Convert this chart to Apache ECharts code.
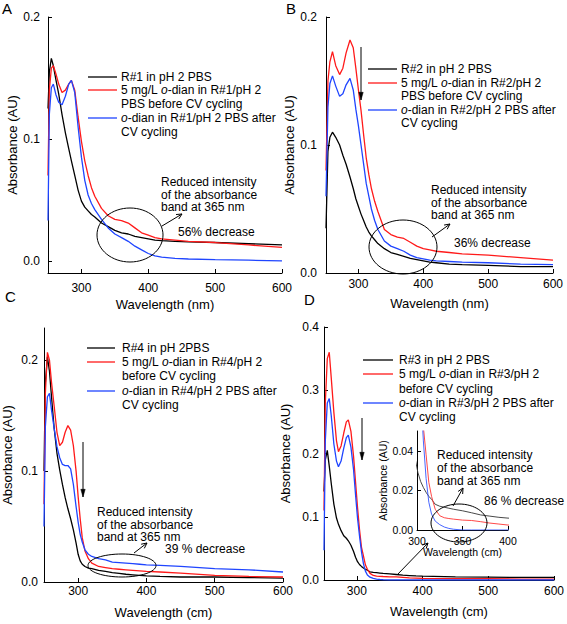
<!DOCTYPE html>
<html><head><meta charset="utf-8">
<script src="https://cdn.jsdelivr.net/npm/echarts@6/dist/echarts.min.js"></script>
<style>html,body{margin:0;padding:0;background:#fff}#c{width:567px;height:624px}</style>
</head><body><div id="c"></div>
<script>
// ---------- DATA ----------
const xTicks = [300, 400, 500, 600];
const insetXTicks = [300, 350, 400];
const yTicksAB = [0, 0.1, 0.2];
const yTicksC = [0, 0.1, 0.2];
const yTicksD = [0, 0.1, 0.2, 0.3, 0.4];
const yTicksInset = [0, 0.02, 0.04];

// Panel A
const wlA = [250,252,255,258,262,266,271,276,281,285,290,295,300,305,310,315,320,330,340,350,360,370,380,390,400,410,420,440,460,500,550,600];
const blackA = [0.125,0.155,0.166,0.160,0.148,0.137,0.120,0.105,0.092,0.082,0.070,0.058,0.049,0.044,0.041,0.038,0.036,0.031,0.028,0.025,0.023,0.022,0.020,0.019,0.018,0.017,0.0165,0.016,0.0155,0.015,0.014,0.013];
const redA = [0.070,0.140,0.158,0.160,0.153,0.145,0.138,0.140,0.145,0.148,0.140,0.118,0.098,0.082,0.070,0.060,0.053,0.043,0.037,0.034,0.033,0.031,0.027,0.023,0.021,0.019,0.018,0.017,0.016,0.015,0.013,0.011];
const blueA = [0.033,0.120,0.142,0.145,0.136,0.130,0.128,0.135,0.145,0.148,0.138,0.110,0.085,0.066,0.054,0.047,0.042,0.034,0.027,0.022,0.019,0.016,0.012,0.009,0.006,0.004,0.003,0.002,0.0015,0.001,0.0005,0.0];

// Panel B
const wlB = [250,253,256,260,265,271,276,281,287,292,296,300,304,308,312,316,320,325,330,340,350,360,370,380,390,400,410,420,440,460,500,550,600];
const blackB = [0.035,0.095,0.106,0.110,0.106,0.100,0.092,0.085,0.075,0.066,0.058,0.052,0.046,0.041,0.036,0.032,0.029,0.026,0.023,0.019,0.016,0.0145,0.013,0.0115,0.0105,0.0095,0.0085,0.008,0.007,0.0065,0.006,0.005,0.005];
const redB = [0.080,0.150,0.165,0.173,0.162,0.155,0.160,0.172,0.182,0.176,0.160,0.143,0.127,0.108,0.090,0.077,0.066,0.056,0.048,0.034,0.030,0.028,0.027,0.024,0.021,0.019,0.018,0.017,0.016,0.015,0.014,0.012,0.010];
const blueB = [0.060,0.130,0.148,0.154,0.146,0.138,0.140,0.147,0.152,0.143,0.128,0.115,0.100,0.085,0.070,0.060,0.050,0.041,0.034,0.025,0.021,0.019,0.017,0.014,0.012,0.011,0.010,0.0095,0.009,0.0085,0.008,0.007,0.0065];

// Panel C
const wlC = [250,252,255,258,261,265,269,273,277,281,285,289,293,297,300,303,306,310,315,320,330,340,350,360,370,380,390,400,420,450,500,550,600];
const blackC = [0.100,0.180,0.203,0.190,0.167,0.138,0.116,0.101,0.088,0.076,0.066,0.057,0.047,0.035,0.025,0.019,0.016,0.014,0.0125,0.012,0.0105,0.0095,0.0085,0.0078,0.007,0.0065,0.006,0.0055,0.005,0.0045,0.0045,0.004,0.0035];
const redC = [0.070,0.170,0.207,0.200,0.180,0.158,0.135,0.123,0.126,0.135,0.141,0.137,0.123,0.100,0.077,0.057,0.040,0.028,0.021,0.017,0.014,0.013,0.012,0.0115,0.011,0.0105,0.010,0.0095,0.009,0.008,0.006,0.005,0.0045];
const blueC = [0.050,0.140,0.167,0.170,0.155,0.138,0.122,0.112,0.106,0.105,0.105,0.102,0.088,0.068,0.054,0.043,0.036,0.029,0.025,0.023,0.021,0.020,0.018,0.0175,0.017,0.0165,0.016,0.0155,0.015,0.014,0.012,0.011,0.009];

// Panel D (also used by the inset)
const wlD = [250,252,255,258,261,265,269,272,276,280,284,287,291,295,298,301,304,307,310,313,316,320,325,330,335,340,350,360,370,380,390,400,450,500,550,600];
const blackD = [0.140,0.190,0.205,0.180,0.153,0.120,0.098,0.088,0.078,0.070,0.066,0.062,0.055,0.045,0.036,0.029,0.0245,0.0215,0.019,0.017,0.0155,0.013,0.012,0.0115,0.011,0.0105,0.0097,0.0087,0.0076,0.007,0.0064,0.006,0.005,0.0045,0.004,0.004];
const redD = [0.110,0.280,0.350,0.360,0.320,0.265,0.220,0.203,0.212,0.232,0.250,0.253,0.235,0.195,0.155,0.115,0.080,0.052,0.038,0.024,0.017,0.0105,0.0072,0.0062,0.0058,0.0055,0.005,0.0048,0.0042,0.0035,0.003,0.0025,0.002,0.002,0.0015,0.0015];
const blueD = [0.047,0.220,0.280,0.287,0.260,0.215,0.188,0.179,0.188,0.208,0.225,0.229,0.210,0.174,0.135,0.098,0.070,0.045,0.026,0.014,0.008,0.0045,0.0027,0.0015,0.0008,0.0004,0,0,0,0,0,0,0,0,0,0];

// ---------- CHART ----------
const FONT = '"Liberation Sans", Arial, sans-serif';
const BLACK = '#000000', RED = '#ff1a1a', BLUE = '#1f45ff';
const zip = (xs, ys) => xs.map((x, i) => [x, ys[i]]);

function xAxis(grid, name, min, max, ticks, margin, nameGap, fs, nfs) {
  return {
    type: 'value', gridIndex: grid, min, max, name, nameLocation: 'middle', nameGap,
    nameTextStyle: {fontSize: nfs, fontFamily: FONT, color: '#000'},
    axisLine: {onZero: false, lineStyle: {color: '#000', width: 1}},
    axisTick: {inside: true, length: 4, customValues: ticks, lineStyle: {color: '#000'}},
    axisLabel: {customValues: ticks, margin, fontSize: fs, fontFamily: FONT, color: '#000'},
    splitLine: {show: false}
  };
}
function yAxis(grid, name, min, max, ticks, digits, margin, nameGap, fs, nfs) {
  return {
    type: 'value', gridIndex: grid, min, max, name, nameLocation: 'middle', nameGap,
    nameTextStyle: {fontSize: nfs, fontFamily: FONT, color: '#000'},
    axisLine: {onZero: false, lineStyle: {color: '#000', width: 1}},
    axisTick: {inside: true, length: 4, customValues: ticks, lineStyle: {color: '#000'}},
    axisLabel: {customValues: ticks, margin, fontSize: fs, fontFamily: FONT, color: '#000',
      formatter: v => Number(v).toFixed(digits)},
    splitLine: {show: false}
  };
}
function line(idx, name, data, color, w) {
  return {type: 'line', name, xAxisIndex: idx, yAxisIndex: idx, data, showSymbol: false,
    symbol: 'none', clip: true, lineStyle: {color, width: w}, itemStyle: {color}, z: 2};
}

const option = {
  animation: false,
  backgroundColor: '#fff',
  grid: [
    {left: 48, top: 17, width: 234, height: 256},
    {left: 326, top: 17, width: 227, height: 256},
    {left: 44, top: 328, width: 239, height: 254},
    {left: 324, top: 327, width: 230, height: 253},
    {left: 417, top: 431, width: 91, height: 99}
  ],
  xAxis: [
    xAxis(0, 'Wavelength (nm)', 250, 600, xTicks, 9, 25, 12, 13),
    xAxis(1, 'Wavelength (nm)', 250, 600, xTicks, 5, 24, 12, 13),
    xAxis(2, 'Wavelength (cm)', 250, 600, xTicks, 3, 24, 12, 13),
    xAxis(3, 'Wavelength (cm)', 250, 600, xTicks, 5, 25, 12, 13),
    xAxis(4, 'Wavelength (cm)', 300, 400, insetXTicks, 5, 16, 10.5, 10.5)
  ],
  yAxis: [
    yAxis(0, 'Absorbance (AU)', -0.01, 0.2, yTicksAB, 1, 8, 29, 12, 13),
    yAxis(1, 'Absorbance (AU)', 0, 0.2, yTicksAB, 1, 9, 27, 12, 13),
    yAxis(2, 'Absorbance (AU)', 0, 0.229, yTicksC, 1, 6, 30, 12, 13),
    yAxis(3, 'Absorbance (AU)', 0, 0.4, yTicksD, 1, 5, 32, 12, 13),
    yAxis(4, 'Absorbance (AU)', 0, 0.05, yTicksInset, 2, 4, 27, 10.5, 10.5)
  ],
  series: [
    line(0, 'A black', zip(wlA, blackA), BLACK, 1.3),
    line(0, 'A red', zip(wlA, redA), RED, 1.3),
    line(0, 'A blue', zip(wlA, blueA), BLUE, 1.3),
    line(1, 'B black', zip(wlB, blackB), BLACK, 1.3),
    line(1, 'B red', zip(wlB, redB), RED, 1.3),
    line(1, 'B blue', zip(wlB, blueB), BLUE, 1.3),
    line(2, 'C black', zip(wlC, blackC), BLACK, 1.3),
    line(2, 'C red', zip(wlC, redC), RED, 1.3),
    line(2, 'C blue', zip(wlC, blueC), BLUE, 1.3),
    line(3, 'D black', zip(wlD, blackD), BLACK, 1.3),
    line(3, 'D red', zip(wlD, redD), RED, 1.3),
    line(3, 'D blue', zip(wlD, blueD), BLUE, 1.3),
    line(4, 'Inset black', zip(wlD, blackD), '#333333', 0.9),
    line(4, 'Inset red', zip(wlD, redD), '#ff3333', 0.9),
    line(4, 'Inset blue', zip(wlD, blueD), '#3355ff', 0.9)
  ]
};

// ---------- ANNOTATIONS ----------
const G = [];
const rich = fs => ({i: {fontStyle: 'italic', fontSize: fs, fontFamily: FONT, fill: '#000'}});
function txt(x, y, text, fs) {
  G.push({type: 'text', x, y, z: 10, style: {text, fontSize: fs || 12, fontFamily: FONT, fill: '#000',
    verticalAlign: 'middle', align: 'left', rich: rich(fs || 12)}});
}
function seg(x1, y1, x2, y2, color, w) {
  G.push({type: 'line', z: 10, shape: {x1, y1, x2, y2}, style: {stroke: color || '#000', lineWidth: w || 1}});
}
function arrow(x1, y1, x2, y2, head, filled) {
  seg(x1, y1, x2, y2);
  const a = Math.atan2(y2 - y1, x2 - x1), h = head || 6, s = filled ? 0.28 : 0.45;
  const p1 = [x2 - h * Math.cos(a - s), y2 - h * Math.sin(a - s)];
  const p2 = [x2 - h * Math.cos(a + s), y2 - h * Math.sin(a + s)];
  if (filled) G.push({type: 'polygon', z: 10, shape: {points: [p1, [x2, y2], p2]}, style: {fill: '#000', stroke: '#000', lineWidth: 0.5}});
  else G.push({type: 'polyline', z: 10, shape: {points: [p1, [x2, y2], p2]}, style: {stroke: '#000', fill: 'none', lineWidth: 1}});
}
function ellipse(cx, cy, rx, ry) {
  G.push({type: 'ellipse', z: 10, shape: {cx, cy, rx, ry}, style: {fill: 'none', stroke: '#000', lineWidth: 1}});
}
function legend(lx0, lx1, tx, ys, labels) {
  seg(lx0, ys[0], lx1, ys[0], BLACK, 1.3);
  seg(lx0, ys[1], lx1, ys[1], RED, 1.3);
  seg(lx0, ys[3], lx1, ys[3], BLUE, 1.3);
  labels.forEach((t, i) => txt(tx, ys[i], t, 12));
}
function panelLetter(x, y, t) {
  G.push({type: 'text', x, y, z: 10, style: {text: t, fontSize: 15, fontFamily: FONT, fill: '#000', verticalAlign: 'top', align: 'left'}});
}

panelLetter(2, 1, 'A'); panelLetter(286, 1, 'B'); panelLetter(5, 289, 'C'); panelLetter(304, 292, 'D');

// A
legend(88, 117, 121, [77, 90, 104, 118, 132],
  ['R#1 in pH 2 PBS', '5 mg/L {i|o}-dian in R#1/pH 2', 'PBS before CV cycling', '{i|o}-dian in R#1/pH 2 PBS after', 'CV cycling']);
ellipse(130, 235, 33, 27);
arrow(162, 226, 182, 214, 6, false);
txt(161, 182, 'Reduced intensity'); txt(161, 194.5, 'of the absorbance'); txt(161, 207, 'band at 365 nm');
txt(178, 232, '56% decrease');

// B
legend(368, 397, 401, [69, 83, 96, 110, 123],
  ['R#2 in pH 2 PBS', '5 mg/L {i|o}-dian in R#2/pH 2', 'PBS before CV cycling', '{i|o}-dian in R#2/pH 2 PBS after', 'CV cycling']);
arrow(361, 47, 361, 100, 8, true);
ellipse(403, 247, 34, 27);
arrow(432, 237, 450, 224, 6, false);
txt(431, 190, 'Reduced intensity'); txt(431, 202.5, 'of the absorbance'); txt(431, 215, 'band at 365 nm');
txt(454, 243, '36% decrease');

// C
legend(87, 115, 122, [348, 362, 376, 391, 405],
  ['R#4 in pH 2PBS', '5 mg/L {i|o}-dian in R#4/pH 2', 'before CV cycling', '{i|o}-dian in R#4/pH 2 PBS after', 'CV cycling']);
arrow(83, 442, 83, 497, 8, true);
ellipse(122, 565.5, 34, 11.5);
arrow(134, 553, 147, 543, 6, false);
txt(97, 512, 'Reduced intensity'); txt(97, 524.5, 'of the absorbance'); txt(97, 537, 'band at 365 nm');
txt(165, 549, '39 % decrease');

// D
legend(363, 393, 399, [360, 374, 389, 403, 417],
  ['R#3 in pH 2 PBS', '5 mg/L {i|o}-dian in R#3/pH 2', 'before CV cycling', '{i|o}-dian in R#3/pH 2 PBS after', 'CV cycling']);
arrow(362, 418, 362, 460, 8, true);
arrow(397, 575, 428, 543, 6, false);
ellipse(459, 523, 28, 19);
arrow(453, 506, 463, 488, 6, false);
txt(437, 455, 'Reduced intensity'); txt(437, 468, 'of the absorbance'); txt(437, 481, 'band at 365 nm');
txt(484, 501, '86 % decrease');

option.graphic = {elements: G};

const chart = echarts.init(document.getElementById('c'), null, {renderer: 'svg', width: 567, height: 624});
chart.setOption(option);
</script>
</body></html>
